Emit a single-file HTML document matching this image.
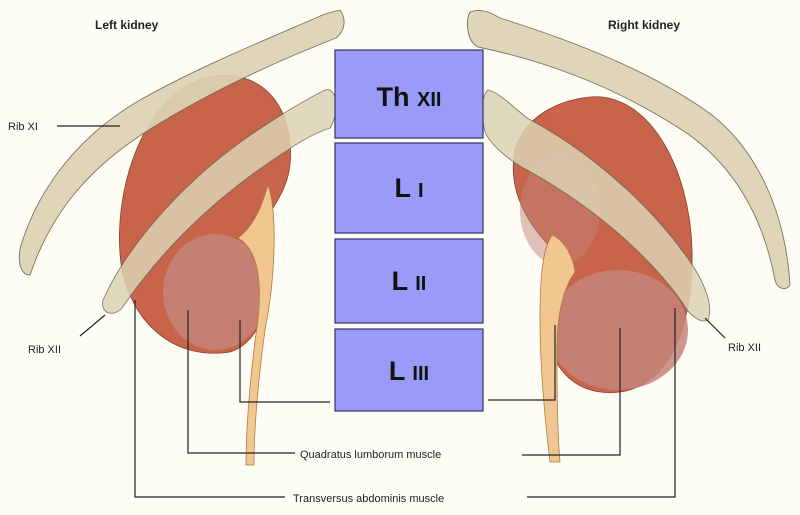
<!DOCTYPE html>
<html><head><meta charset="utf-8"><style>
html,body{margin:0;padding:0;background:#fdfdf6;}
svg{display:block;font-family:"Liberation Sans",sans-serif;}
</style></head><body>
<svg width="800" height="515" viewBox="0 0 800 515">
<rect width="800" height="515" fill="#fdfdf6"/>
<!-- left kidney -->
<path d="M215,76 C265,70 295,110 290,165 C286,200 262,215 258,240 C285,250 272,340 230,352 C180,360 135,330 122,270 C110,200 140,88 215,76Z" fill="#c8644a" stroke="#8a4030" stroke-width="0.8"/>
<ellipse cx="215" cy="292" rx="52" ry="58" fill="#c4847a" opacity="0.85"/>
<!-- ureter left -->
<path d="M268,185 C278,215 275,280 265,330 C258,380 254,430 254,465 L246,465 C246,420 252,360 258,320 C262,280 258,250 238,238 C255,225 262,205 268,185Z" fill="#f2c690" stroke="#b07a40" stroke-width="0.8"/>
<!-- rib XI left -->
<path d="M340,10 C346,18 346,30 336,38 C270,64 210,92 152,128 C92,165 52,210 30,275 C20,275 17,260 21,245 C40,185 80,135 140,100 C200,66 270,38 325,14Z" fill="#ddd3b4" stroke="#6f6752" stroke-width="0.9" opacity="0.92"/>
<!-- rib XII left -->
<path d="M325,90 C337,86 340,112 330,128 C318,132 302,140 288,150 C222,192 165,245 122,308 C113,318 100,313 103,300 C130,240 190,175 258,130 C285,112 305,100 325,90Z" fill="#ddd3b4" stroke="#6f6752" stroke-width="0.9" opacity="0.85"/>

<!-- right kidney -->
<path d="M590,97 C650,92 690,170 692,250 C694,320 672,385 620,392 C570,398 545,360 548,320 C550,290 570,285 565,260 C540,240 505,200 515,150 C525,115 560,100 590,97Z" fill="#c8644a" stroke="#8a4030" stroke-width="0.8"/>
<ellipse cx="618" cy="330" rx="70" ry="60" fill="#c4847a" opacity="0.85"/>
<ellipse cx="560" cy="210" rx="40" ry="55" fill="#c4847a" opacity="0.5"/>
<!-- ureter right -->
<path d="M552,235 C560,238 572,250 575,272 C562,290 556,320 557,360 C557,400 558,440 560,462 L550,462 C545,420 540,370 540,320 C540,280 542,250 552,235Z" fill="#f2c690" stroke="#b07a40" stroke-width="0.8"/>
<!-- rib XI right -->
<path d="M470,12 C480,8 490,12 500,18 C570,40 650,70 712,115 C762,155 786,220 790,285 C785,292 777,288 775,280 C764,222 738,170 688,134 C628,94 560,64 478,47 C467,41 465,22 470,12Z" fill="#ddd3b4" stroke="#6f6752" stroke-width="0.9" opacity="0.92"/>
<!-- rib XII right -->
<path d="M488,90 C500,93 512,106 527,118 C584,148 644,198 684,253 C704,280 714,305 708,320 C700,324 688,314 682,302 C648,254 592,206 527,170 C508,160 490,144 485,132 C481,115 481,96 488,90Z" fill="#ddd3b4" stroke="#6f6752" stroke-width="0.9" opacity="0.85"/>

<!-- vertebra boxes -->
<g fill="#9a9af8" stroke="#333366" stroke-width="1.2">
<rect x="335" y="50" width="148" height="88"/>
<rect x="335" y="143" width="148" height="90"/>
<rect x="335" y="239" width="148" height="84"/>
<rect x="335" y="329" width="148" height="82"/>
</g>
<g font-weight="bold" fill="#111" text-anchor="middle">
<text x="409" y="106" font-size="27">Th <tspan font-size="20">XII</tspan></text>
<text x="409" y="197" font-size="27">L <tspan font-size="20">I</tspan></text>
<text x="409" y="290" font-size="27">L <tspan font-size="20">II</tspan></text>
<text x="409" y="380" font-size="27">L <tspan font-size="20">III</tspan></text>
</g>

<!-- leader lines -->
<g fill="none" stroke="#222" stroke-width="1.2">
<path d="M240,320 V402 H330"/>
<path d="M488,400 H555 V325"/>
<path d="M188,310 V453 H295"/>
<path d="M522,455 H620 V328"/>
<path d="M135,300 V497 H285"/>
<path d="M527,497 H675 V308"/>
<path d="M57,126 H120"/>
<path d="M80,336 L105,315"/>
<path d="M725,338 L705,318"/>
</g>
<g font-size="11" fill="#222">
<text x="95" y="29" font-weight="bold" font-size="12">Left kidney</text>
<text x="608" y="29" font-weight="bold" font-size="12">Right kidney</text>
<text x="8" y="130">Rib XI</text>
<text x="28" y="353">Rib XII</text>
<text x="728" y="351">Rib XII</text>
<text x="300" y="458">Quadratus lumborum muscle</text>
<text x="293" y="502">Transversus abdominis muscle</text>
</g>
</svg>
</body></html>
